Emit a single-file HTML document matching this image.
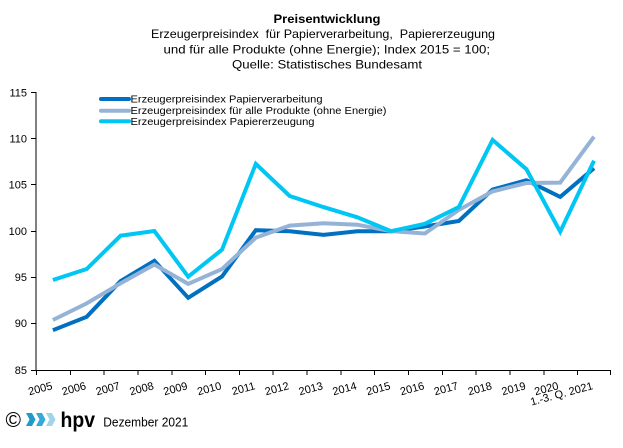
<!DOCTYPE html>
<html><head><meta charset="utf-8"><style>
html,body{margin:0;padding:0;background:#fff;}
svg{display:block;}
text{font-family:"Liberation Sans",Arial,sans-serif;fill:#000;}
</style></head><body>
<svg width="623" height="448" viewBox="0 0 623 448" xmlns="http://www.w3.org/2000/svg">
<rect width="623" height="448" fill="#fff"/>
<!-- Title -->
<text x="273.5" y="23" font-size="12" font-weight="bold" textLength="107" lengthAdjust="spacingAndGlyphs">Preisentwicklung</text>
<text x="151" y="38" font-size="12" textLength="344" lengthAdjust="spacingAndGlyphs" xml:space="preserve">Erzeugerpreisindex  für Papierverarbeitung,  Papiererzeugung</text>
<text x="163.5" y="53.5" font-size="12" textLength="326.5" lengthAdjust="spacingAndGlyphs">und für alle Produkte (ohne Energie); Index 2015 = 100;</text>
<text x="232" y="68.5" font-size="12" textLength="190" lengthAdjust="spacingAndGlyphs">Quelle: Statistisches Bundesamt</text>

<!-- Axes -->
<g stroke="#000" stroke-width="1" fill="none" shape-rendering="crispEdges">
<line x1="36" y1="92" x2="36" y2="370.5"/>
<line x1="36" y1="370.5" x2="611" y2="370.5"/>
<line x1="31" y1="92.5" x2="36" y2="92.5"/>
<line x1="31" y1="138.5" x2="36" y2="138.5"/>
<line x1="31" y1="184.5" x2="36" y2="184.5"/>
<line x1="31" y1="231.5" x2="36" y2="231.5"/>
<line x1="31" y1="277.5" x2="36" y2="277.5"/>
<line x1="31" y1="323.5" x2="36" y2="323.5"/>
<line x1="31" y1="370.5" x2="36" y2="370.5"/>
<line x1="36.5" y1="370" x2="36.5" y2="375"/>
<line x1="70.3" y1="370" x2="70.3" y2="375"/>
<line x1="104.1" y1="370" x2="104.1" y2="375"/>
<line x1="138" y1="370" x2="138" y2="375"/>
<line x1="171.8" y1="370" x2="171.8" y2="375"/>
<line x1="205.6" y1="370" x2="205.6" y2="375"/>
<line x1="239.4" y1="370" x2="239.4" y2="375"/>
<line x1="273.2" y1="370" x2="273.2" y2="375"/>
<line x1="307" y1="370" x2="307" y2="375"/>
<line x1="340.9" y1="370" x2="340.9" y2="375"/>
<line x1="374.7" y1="370" x2="374.7" y2="375"/>
<line x1="408.5" y1="370" x2="408.5" y2="375"/>
<line x1="442.3" y1="370" x2="442.3" y2="375"/>
<line x1="476.1" y1="370" x2="476.1" y2="375"/>
<line x1="510" y1="370" x2="510" y2="375"/>
<line x1="543.8" y1="370" x2="543.8" y2="375"/>
<line x1="577.6" y1="370" x2="577.6" y2="375"/>
<line x1="610.5" y1="370" x2="610.5" y2="375"/>
</g>

<!-- Y labels -->
<g font-size="11" text-anchor="end">
<text x="27" y="96.5">115</text>
<text x="27" y="142.5">110</text>
<text x="27" y="188.5">105</text>
<text x="27" y="235">100</text>
<text x="27" y="281">95</text>
<text x="27" y="327">90</text>
<text x="27" y="374">85</text>
</g>

<!-- X labels -->
<g font-size="11" text-anchor="end">
<text transform="translate(53,389) rotate(-15)">2005</text>
<text transform="translate(86.7,389) rotate(-15)">2006</text>
<text transform="translate(120.6,389) rotate(-15)">2007</text>
<text transform="translate(154.4,389) rotate(-15)">2008</text>
<text transform="translate(188.2,389) rotate(-15)">2009</text>
<text transform="translate(222,389) rotate(-15)">2010</text>
<text transform="translate(255.8,389) rotate(-15)">2011</text>
<text transform="translate(289.7,389) rotate(-15)">2012</text>
<text transform="translate(323.5,389) rotate(-15)">2013</text>
<text transform="translate(357.3,389) rotate(-15)">2014</text>
<text transform="translate(391.1,389) rotate(-15)">2015</text>
<text transform="translate(424.9,389) rotate(-15)">2016</text>
<text transform="translate(458.8,389) rotate(-15)">2017</text>
<text transform="translate(492.6,389) rotate(-15)">2018</text>
<text transform="translate(526.4,389) rotate(-15)">2019</text>
<text transform="translate(559.2,389) rotate(-15)">2020</text>
<text transform="translate(593.5,389) rotate(-15)">1.-3. Q. 2021</text>
</g>

<!-- Series -->
<g fill="none" stroke-width="4" stroke-linejoin="miter" stroke-linecap="butt">
<polyline stroke="#0070C0" points="52.9,330.2 86.7,316.8 120.6,281.1 154.4,260.8 188.2,297.8 222,276.5 255.8,230.2 289.7,231.2 323.5,234.9 357.3,231.2 391.1,231.2 424.9,226.5 458.8,221 492.6,189.5 526.4,180.3 560.2,196.9 594,168.2"/>
<polyline stroke="#95B3D7" points="52.9,320 86.7,303.4 120.6,283.3 154.4,264.5 188.2,283.9 222,269.1 255.8,237.6 289.7,225.6 323.5,223.3 357.3,224.7 391.1,231.2 424.9,233.5 458.8,209.9 492.6,191.4 526.4,183 560.2,182.6 594,136.7"/>
<polyline stroke="#00C6F3" points="52.9,280 86.7,269 120.6,235.7 154.4,231 188.2,276.7 222,249.7 255.8,163.9 289.7,196 323.5,207.1 357.3,217.3 391.1,231.2 424.9,223.8 458.8,207.1 492.6,140 526.4,169.2 560.2,231.7 594,160.7"/>
</g>

<!-- Legend -->
<g stroke-width="4" stroke-linecap="round">
<line x1="101" y1="99" x2="129" y2="99" stroke="#0070C0"/>
<line x1="101" y1="110.7" x2="129" y2="110.7" stroke="#95B3D7"/>
<line x1="101" y1="121.3" x2="129" y2="121.3" stroke="#00C6F3"/>
</g>
<g font-size="10">
<text x="130.5" y="102.5" textLength="192" lengthAdjust="spacingAndGlyphs">Erzeugerpreisindex Papierverarbeitung</text>
<text x="130.5" y="114.2" textLength="256" lengthAdjust="spacingAndGlyphs">Erzeugerpreisindex für alle Produkte (ohne Energie)</text>
<text x="130.5" y="124.8" textLength="184" lengthAdjust="spacingAndGlyphs">Erzeugerpreisindex Papiererzeugung</text>
</g>

<!-- Footer -->
<text x="5.5" y="427" font-size="21">©</text>
<polygon points="26,413 32,413 35.5,419.5 32,426 26,426 29.5,419.5" fill="#1E9BC8"/>
<polygon points="36,413 42,413 45.5,419.5 42,426 36,426 39.5,419.5" fill="#34AAD8"/>
<polygon points="46,413 52,413 55.5,419.5 52,426 46,426 49.5,419.5" fill="#9FD4EA"/>
<text x="60.5" y="427" font-size="21" font-weight="bold" textLength="34.5" lengthAdjust="spacingAndGlyphs">hpv</text>
<text x="103.3" y="426.7" font-size="13" textLength="85" lengthAdjust="spacingAndGlyphs">Dezember 2021</text>
</svg>
</body></html>
